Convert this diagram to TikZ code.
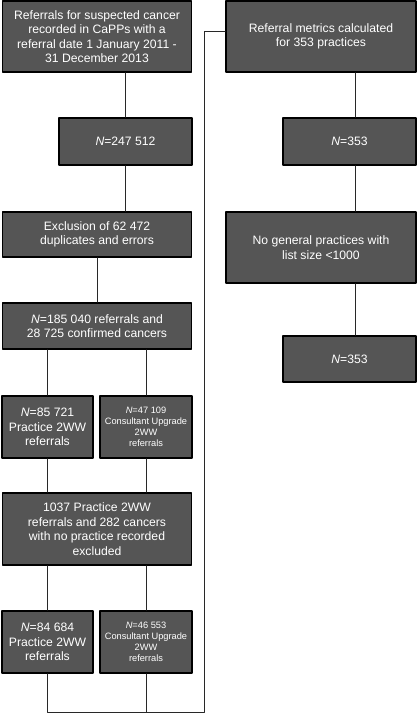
\documentclass[tikz,border=0pt]{standalone}
\usepackage{fontspec}
\setmainfont{Liberation Sans}
\definecolor{boxgray}{RGB}{85,85,85}
\definecolor{linegray}{RGB}{40,40,40}
\tikzset{
  flowbox/.style 2 args={draw=black,line width=1.3pt,fill=boxgray,text=white,
    align=center,inner sep=1pt,minimum width=#1*0.03cm,minimum height=#2*0.03cm,
    font=\fontsize{10.4}{12.4}\selectfont},
  smallbox/.style 2 args={flowbox={#1}{#2},font=\fontsize{7.9}{9.4}\selectfont},
  link/.style={draw=linegray,line width=0.8pt}
}
\begin{document}
\begin{tikzpicture}[x=0.03cm,y=-0.03cm,line cap=round,line join=round]
\useasboundingbox (0,0) rectangle (417,713);

% left column
\node[flowbox={189}{71}] (refs) at (97,36.5) {Referrals for suspected cancer\\recorded in CaPPs with a\\referral date 1 January 2011 -\\31 December 2013};
\node[flowbox={133}{47}] (n1) at (125.5,141.5) {\textit{N}=247 512};
\node[flowbox={189}{45}] (excl) at (97,234.5) {Exclusion of 62 472\\duplicates and errors};
\node[flowbox={189}{46}] (n2) at (97,326) {\textit{N}=185 040 referrals and\\28 725 confirmed cancers};
\node[flowbox={91}{62}] (prac1) at (47.5,427) {\textit{N}=85 721\\Practice 2WW\\referrals};
\node[smallbox={92}{62}] (cons1) at (146,427) {\textit{N}=47 109\\Consultant Upgrade\\2WW\\referrals};
\node[flowbox={189}{72}] (nopr) at (97,529) {1037 Practice 2WW\\referrals and 282 cancers\\with no practice recorded\\excluded};
\node[flowbox={91}{62}] (prac2) at (47.5,642) {\textit{N}=84 684\\Practice 2WW\\referrals};
\node[smallbox={92}{62}] (cons2) at (146,642) {\textit{N}=46 553\\Consultant Upgrade\\2WW\\referrals};

% right column
\node[flowbox={190}{71}] (metr) at (321,36.5) {Referral metrics calculated\\for 353 practices};
\node[flowbox={133}{47}] (n3) at (349.5,141.5) {\textit{N}=353};
\node[flowbox={190}{71}] (size) at (321,247.5) {No general practices with\\list size <1000};
\node[flowbox={133}{46}] (n4) at (349.5,359) {\textit{N}=353};

\coordinate (rx) at (355.5,0);
\coordinate (bot) at (204,712);
\coordinate (top) at (204,31);

\draw[link] (refs.south -| n1) -- (n1.north);
\draw[link] (n1.south) -- (n1.south |- excl.north);
\draw[link] (excl.south) -- (n2.north);
\draw[link] (n2.south -| prac1) -- (prac1.north);
\draw[link] (n2.south -| cons1) -- (cons1.north);
\draw[link] (prac1.south) -- (prac1.south |- nopr.north);
\draw[link] (cons1.south) -- (cons1.south |- nopr.north);
\draw[link] (nopr.south -| prac2) -- (prac2.north);
\draw[link] (nopr.south -| cons2) -- (cons2.north);
\draw[link] (prac2.south) |- (bot) -- (top) -- (top -| metr.west);
\draw[link] (cons2.south) -- (cons2.south |- bot);
\draw[link] (metr.south -| rx) -- (n3.north -| rx);
\draw[link] (n3.south -| rx) -- (size.north -| rx);
\draw[link] (size.south -| rx) -- (n4.north -| rx);
\end{tikzpicture}
\end{document}
